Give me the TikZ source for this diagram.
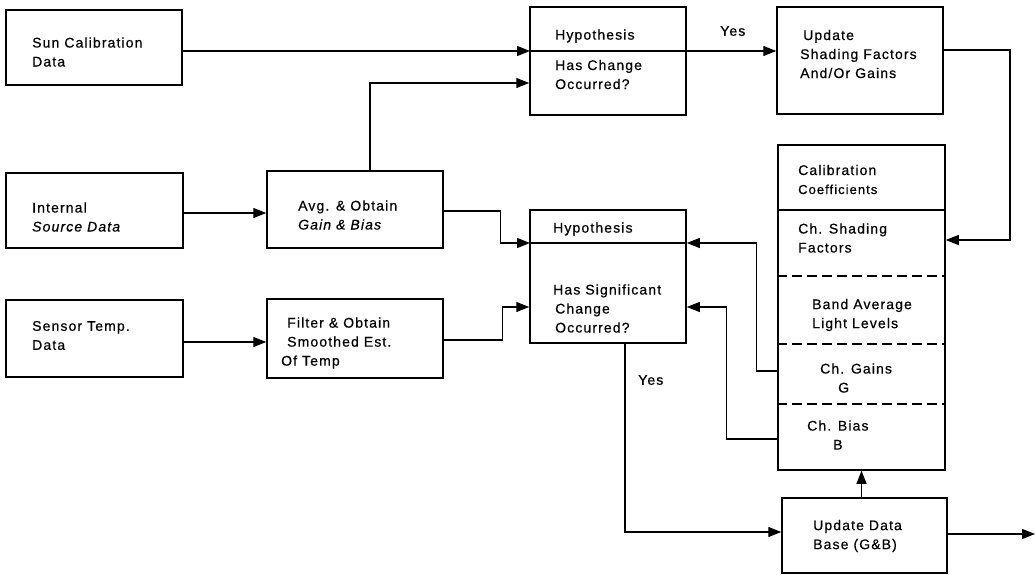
\documentclass[tikz,border=0pt]{standalone}
\usepackage{fontspec}
\setmainfont{Liberation Sans}[LetterSpace=8, FakeBold=0.5]
\usetikzlibrary{positioning,calc,arrows.meta}

\begin{document}
\begin{tikzpicture}[x=1pt, y=-1pt,
  box/.style 2 args={draw, line width=1.5pt, minimum width=#1pt, minimum height=#2pt, inner sep=0pt},
  txt/.style={anchor=west, align=left, inner sep=0pt, font=\fontsize{14}{19}\selectfont},
  arr/.style={line width=1.1pt, -{Triangle[length=13pt, width=10pt]}},
  wire/.style={line width=1.1pt}]
  \useasboundingbox (0,0) rectangle (1035,575);

  % Input boxes
  \node[box={176}{75}] (sun)  at (94,47.5) {};
  \node[box={177}{75}] (intl) at (94.5,210.5) {};
  \node[box={177}{77}] (sens) at (94.5,338.5) {};

  % Processing boxes
  \node[box={176}{77}] (avg)  at (355,209.5) {};
  \node[box={176}{79}] (filt) at (355,338.5) {};

  % Hypothesis tests
  \node[box={156}{108}] (hypA) at (608,61) {};
  \node[box={156}{133}] (hypB) at (608,276.5) {};
  \coordinate (hypAdiv) at (530,51);
  \coordinate (hypBdiv) at (530,243);
  \draw[wire] (hypAdiv) -- (hypAdiv -| hypA.east);
  \draw[wire] (hypBdiv) -- (hypBdiv -| hypB.east);

  % Right column
  \node[box={166}{107}] (upd) at (860,60.5) {};
  \node[box={167}{325}] (cal) at (861.5,307.5) {};
  \node[box={165}{75}]  (db)  at (864.5,535.5) {};
  \draw[line width=1.5pt] (cal.west |- 0,210) -- (cal.east |- 0,210);
  \foreach \y in {276,344,404} {
    \draw[line width=1.5pt, dash pattern=on 10pt off 5pt] (cal.west |- 0,\y) -- (cal.east |- 0,\y);
  }

  % Texts
  \node[txt] (tsun)  at (32,52)    {Sun Calibration\\Data};
  \node[txt] (tintl) at (32,217)   {Internal\\\textit{Source Data}};
  \node[txt] (tsens) at (32,335.5) {Sensor Temp.\\Data};
  \node[txt] (tavg)  at (298,215)  {Avg. \& Obtain\\\textit{Gain \& Bias}};
  \node[txt] (tfilt) at (287,343)  {Filter \& Obtain\\Smoothed Est.\\\hspace*{-6pt}Of Temp};
  \node[txt] (thA1)  at (555,36)   {Hypothesis};
  \node[txt] (thA2)  at (555,74.5) {Has Change\\Occurred?};
  \node[txt] (thB1)  at (553,229)  {Hypothesis};
  \node[txt] (thB2)  at (553,308.5) {Has Significant\\\hspace*{2pt}Change\\\hspace*{2pt}Occurred?};
  \node[txt] (tupd)  at (800,54)   {\hspace*{3pt}Update\\Shading Factors\\And/Or Gains};
  \node[txt] (tcal)  at (798,179.5) {Calibration\\{\fontsize{13}{14}\selectfont Coefficients}};
  \node[txt] (tshd)  at (798,238)  {Ch. Shading\\Factors};
  \node[txt] (tband) at (812,315)  {Band Average\\Light Levels};
  \node[txt] (tgain) at (820,378)  {Ch. Gains\\\hspace*{18pt}G};
  \node[txt] (tbias) at (807,435)  {Ch. Bias\\\hspace*{26pt}B};
  \node[txt] (tdb)   at (813,536)  {Update Data\\Base (G\&B)};
  \node[txt] (yesA)  at (720,31)   {Yes};
  \node[txt] (yesB)  at (638,380)  {Yes};

  % Connectors
  \draw[arr] (sun.east |- hypAdiv) -- (hypAdiv);
  \draw[arr] ([xshift=15pt]avg.north) |- (hypA.west |- 0,83);
  \draw[arr] (hypAdiv -| hypA.east) -- (hypAdiv -| upd.west);
  \coordinate (ret) at (1010,240);
  \draw[arr] (upd.east |- 0,50) -| (ret) -- (ret -| cal.east);
  \draw[arr] (intl.east |- 0,213) -- (avg.west |- 0,213);
  \draw[arr] (sens.east |- 0,342) -- (filt.west |- 0,342);
  \draw[arr] (avg.east |- 0,211) -- ++(57,0) |- (hypBdiv);
  \draw[arr] (filt.east |- 0,340) -- ++(59,0) |- (hypB.west |- 0,307);
  \draw[arr] (cal.west |- 0,371) -- ++(-21,0) |- (hypBdiv -| hypB.east);
  \draw[arr] (cal.west |- 0,439) -- ++(-51,0) |- (hypB.east |- 0,307);
  \draw[arr] (hypB.south -| 625,0) |- (db.west |- 0,532);
  \draw[arr] (db.north -| cal.south) -- (cal.south);
  \coordinate (out) at (1035,534);
  \draw[arr] (db.east |- out) -- (out);
\end{tikzpicture}
\end{document}
